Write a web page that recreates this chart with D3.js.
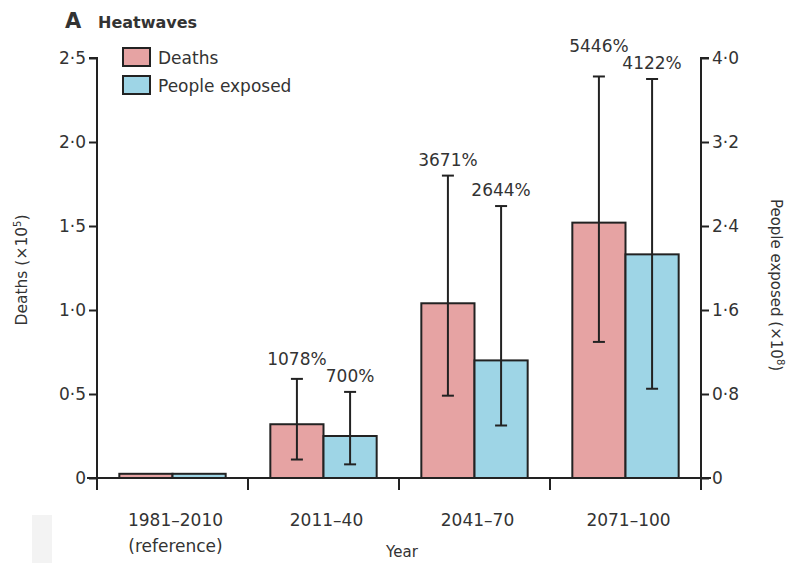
<!DOCTYPE html>
<html><head><meta charset="utf-8">
<script src="https://cdn.jsdelivr.net/npm/d3@7/dist/d3.min.js"></script>
<style>body{margin:0;background:#fff}svg{display:block}text{font-family:"DejaVu Sans","Open Sans",sans-serif;fill:#333}</style>
</head><body><svg id="c" width="788" height="563"></svg>
<script>
const categories = ["1981–2010", "2011–40", "2041–70", "2071–100"];
const categorySub = ["(reference)", "", "", ""];
const deaths = [0.025, 0.32, 1.04, 1.52];
const deathsLow = [null, 0.11, 0.49, 0.81];
const deathsHigh = [null, 0.59, 1.80, 2.39];
const deathsLabel = ["", "1078%", "3671%", "5446%"];
const exposed = [0.04, 0.40, 1.12, 2.13];
const exposedLow = [null, 0.13, 0.50, 0.85];
const exposedHigh = [null, 0.82, 2.59, 3.80];
const exposedLabel = ["", "700%", "2644%", "4122%"];
const leftTicks = [0, 0.5, 1.0, 1.5, 2.0, 2.5];
const rightTicks = [0, 0.8, 1.6, 2.4, 3.2, 4.0];
const series = ["Deaths", "People exposed"];
const colors = ["#e6a3a3", "#9ed5e6"];

const svg = d3.select("#c");
const L = 97, R = 701, T = 58, B = 478;
const fmt = d => d === 0 ? "0" : d3.format(".1f")(d).replace(".", "·");

const x = d3.scaleBand().domain(categories).range([L, R]).paddingInner(0).paddingOuter(0);
const inner = d3.scaleBand().domain(series).range([0, x.bandwidth()]).paddingInner(0).paddingOuter(0.42);
const yL = d3.scaleLinear().domain([0, 2.5]).range([B, T]);
const yR = d3.scaleLinear().domain([0, 4.0]).range([B, T]);

// faint artifact block
svg.append("rect").attr("x", 32).attr("y", 515).attr("width", 20).attr("height", 48).attr("fill", "#f3f3f3");

// bars
const g = svg.append("g");
categories.forEach((c, i) => {
  const bx0 = x(c) + inner("Deaths");
  const bx1 = x(c) + inner("People exposed");
  const w = inner.bandwidth();
  g.append("rect").attr("x", bx0).attr("y", yL(deaths[i])).attr("width", w)
    .attr("height", B - yL(deaths[i])).attr("fill", colors[0]).attr("stroke", "#222").attr("stroke-width", 2);
  g.append("rect").attr("x", bx1).attr("y", yR(exposed[i])).attr("width", w)
    .attr("height", B - yR(exposed[i])).attr("fill", colors[1]).attr("stroke", "#222").attr("stroke-width", 2);
  if (deathsHigh[i] === null) return;
  const eb = (cx, y0, y1) => {
    g.append("line").attr("x1", cx).attr("x2", cx).attr("y1", y0).attr("y2", y1).attr("stroke", "#222").attr("stroke-width", 2);
    [y0, y1].forEach(yy => g.append("line").attr("x1", cx - 6).attr("x2", cx + 6).attr("y1", yy).attr("y2", yy).attr("stroke", "#222").attr("stroke-width", 2));
  };
  const cx0 = bx0 + w / 2, cx1 = bx1 + w / 2;
  eb(cx0, yL(deathsLow[i]), yL(deathsHigh[i]));
  eb(cx1, yR(exposedLow[i]), yR(exposedHigh[i]));
  const ly1 = yR(exposedHigh[i]) - 10;
  let ly0 = yL(deathsHigh[i]) - 10;
  if (ly0 > ly1 - 17) ly0 = ly1 - 17;
  g.append("text").attr("x", cx0).attr("y", ly0).attr("text-anchor", "middle").attr("font-size", 17).text(deathsLabel[i]);
  g.append("text").attr("x", cx1).attr("y", ly1).attr("text-anchor", "middle").attr("font-size", 17).text(exposedLabel[i]);
});

// axes
const axisStyle = sel => {
  sel.selectAll("path,line").attr("stroke", "#222").attr("stroke-width", 2);
  sel.selectAll("text").attr("font-size", 17).attr("fill", "#333");
};
svg.append("g").attr("transform", `translate(${L},0)`)
  .call(d3.axisLeft(yL).tickValues(leftTicks).tickFormat(fmt).tickSize(8).tickSizeOuter(0).tickPadding(3))
  .call(axisStyle).call(s => s.select("path").attr("d", `M-8,${T}H0V${B + 12}`));
svg.append("g").attr("transform", `translate(${R},0)`)
  .call(d3.axisRight(yR).tickValues(rightTicks).tickFormat(fmt).tickSize(8).tickSizeOuter(0).tickPadding(3))
  .call(axisStyle).call(s => s.select("path").attr("d", `M8,${T}H0V${B + 12}`));
// x axis
svg.append("line").attr("x1", L - 10).attr("x2", R + 10).attr("y1", B).attr("y2", B).attr("stroke", "#222").attr("stroke-width", 2);
categories.slice(1).forEach(c => svg.append("line").attr("x1", x(c)).attr("x2", x(c)).attr("y1", B).attr("y2", B + 12).attr("stroke", "#222").attr("stroke-width", 2));
categories.forEach((c, i) => {
  const cx = x(c) + x.bandwidth() / 2 + 3;
  svg.append("text").attr("x", cx).attr("y", 526).attr("text-anchor", "middle").attr("font-size", 17).text(c);
  if (categorySub[i]) svg.append("text").attr("x", cx).attr("y", 552).attr("text-anchor", "middle").attr("font-size", 17).text(categorySub[i]);
});

// axis titles
svg.append("text").attr("x", 402).attr("y", 557).attr("text-anchor", "middle").attr("font-size", 15).text("Year");
svg.append("text").attr("transform", "translate(27,270) rotate(-90)").attr("text-anchor", "middle").attr("font-size", 15.5)
  .html('Deaths (×10<tspan dy="-6" font-size="10">5</tspan><tspan dy="6">)</tspan>');
svg.append("text").attr("transform", "translate(771,285) rotate(90)").attr("text-anchor", "middle").attr("font-size", 15)
  .html('People exposed (×10<tspan dy="-6" font-size="10">8</tspan><tspan dy="6">)</tspan>');

// title
svg.append("text").attr("x", 65).attr("y", 28).attr("font-size", 21).attr("font-weight", "bold").attr("fill", "#1a1a1a").text("A");
svg.append("text").attr("x", 98).attr("y", 28).attr("font-size", 16).attr("font-weight", "bold").attr("fill", "#1a1a1a").text("Heatwaves");

// legend
series.forEach((s, i) => {
  svg.append("rect").attr("x", 123).attr("y", 48 + i * 28).attr("width", 27).attr("height", 18)
    .attr("fill", colors[i]).attr("stroke", "#222").attr("stroke-width", 2);
  svg.append("text").attr("x", 158).attr("y", 64 + i * 28).attr("font-size", 17).text(s);
});
</script></body></html>
